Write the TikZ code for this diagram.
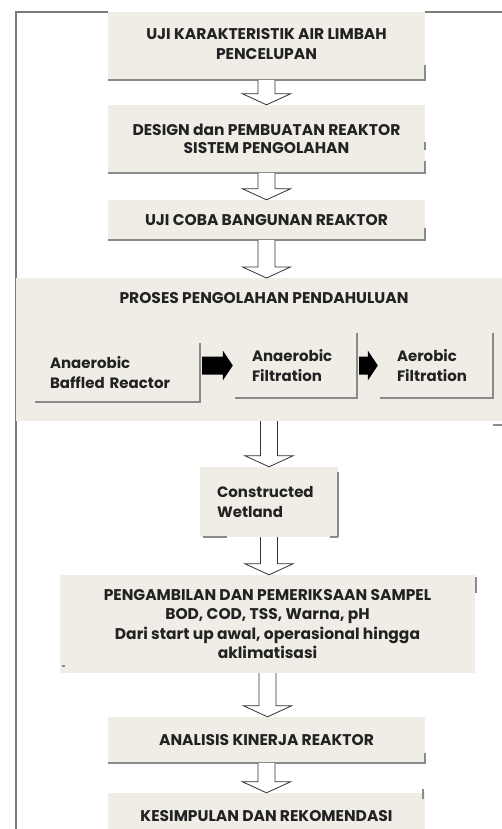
\documentclass[tikz,border=0pt]{standalone}
\usepackage{fontspec}
\setmainfont{Poppins}
\usetikzlibrary{calc}
\definecolor{boxfill}{HTML}{EFEDE6}
\definecolor{shadowgray}{HTML}{8A8A8A}
\definecolor{framegray}{HTML}{7A7A7A}
\definecolor{txt}{HTML}{222222}
\tikzset{
  box/.style={fill=boxfill, draw=none, inner sep=0pt, text=txt, align=center,
    font=\bfseries\fontsize{15.5}{18.5}\selectfont},
  subbox/.style={fill=boxfill, draw=none, inner ysep=0pt, text=txt, align=left,
    font=\bfseries\fontsize{15}{20}\selectfont},
  shadowline/.style={draw=shadowgray, line width=1.5pt},
  hollow/.style={draw=black!80, fill=white, line width=0.8pt, line join=miter},
  solidarrow/.style={fill=black, draw=none},
  pics/harrow/.style 2 args={code={
    \draw[hollow] let \p1=(#1), \p2=(#2) in
      (\x1-8.5pt,\y1) -- (\x1-8.5pt,\y2+11pt) -- (\x1-24pt,\y2+11pt) -- (\x1,\y2)
      -- (\x1+24pt,\y2+11pt) -- (\x1+8.5pt,\y2+11pt) -- (\x1+8.5pt,\y1);
  }},
  pics/barrow/.style 2 args={code={
    \fill[solidarrow] let \p1=(#1), \p2=(#2) in
      (\x1+2pt,\y2+9pt) -- (\x2-12pt,\y2+9pt) -- (\x2-12pt,\y2+15pt) -- (\x2-2pt,\y2)
      -- (\x2-12pt,\y2-15pt) -- (\x2-12pt,\y2-9pt) -- (\x1+2pt,\y2-9pt) -- cycle;
  }}
}
\begin{document}
\begin{tikzpicture}[x=1pt,y=-1pt]
\useasboundingbox (0,0) rectangle (502,829);
\clip (0,0) rectangle (502,829);
\fill[white] (0,0) rectangle (502,829);
% outer frame
\draw[framegray, line width=1.2pt] (16,829) -- (16,12) -- (108,12);
\draw[framegray, line width=1.2pt] (425,12) -- (502,12);
% main boxes
\node[box, minimum width=317pt, minimum height=68pt] (b1) at (266.5,46)
  {\raisebox{4pt}{\begin{tabular}{@{}c@{}}UJI KARAKTERISTIK AIR LIMBAH\\[2pt]PENCELUPAN\end{tabular}}};
\node[box, minimum width=317pt, minimum height=68pt] (b2) at (266.5,139)
  {DESIGN dan PEMBUATAN REAKTOR\\SISTEM PENGOLAHAN};
\node[box, minimum width=317pt, minimum height=40pt] (b3) at (266.5,220)
  {UJI COBA BANGUNAN REAKTOR};
\fill[boxfill] (16,278) rectangle (502,421);
\node[box, fill=none, anchor=center] (b4) at (264,298) {PROSES PENGOLAHAN PENDAHULUAN};
\coordinate (b4bottom) at (259,421);
\node[subbox, inner xsep=15pt, text width=135pt, minimum height=59pt] (sA) at (117.5,372.5)
  {Anaerobic\\Baffled Reactor};
\node[subbox, inner xsep=17pt, text width=88pt, minimum height=65pt] (sB) at (296,365.5)
  {Anaerobic\\Filtration};
\node[subbox, inner xsep=17pt, text width=79pt, minimum height=65pt] (sC) at (436.5,365.5)
  {Aerobic\\Filtration};
\node[subbox, inner xsep=17pt, text width=104pt, minimum height=70pt] (b5) at (269,502)
  {Constructed\\Wetland};
\node[box, minimum width=415pt, minimum height=98pt, font=\bfseries\fontsize{15.5}{19.5}\selectfont] (b6) at (267.5,624)
  {PENGAMBILAN DAN PEMERIKSAAN SAMPEL\\BOD, COD, TSS, Warna, pH\\Dari start up awal, operasional hingga\\aklimatisasi};
\node[box, minimum width=317pt, minimum height=46pt] (b7) at (266.5,740)
  {ANALISIS KINERJA REAKTOR};
\node[box, minimum width=317pt, minimum height=46pt, text depth=0pt] (b8) at (266.5,816)
  {KESIMPULAN DAN REKOMENDASI};
% shadow lines
\draw[shadowline] (b1.south west) -- (b1.south east) -- ++(0,-15);
\draw[shadowline] (b2.south west) -- (b2.south east) -- ++(0,-12);
\draw[shadowline] ([yshift=-45pt]b2.north east) -- ++(0,-8);
\draw[shadowline] (b3.south west) -- (b3.south east) -- ++(0,-12);
\draw[shadowline] (sA.south west) -- (sA.south east) -- (sA.north east);
\draw[shadowline] (sB.south west) -- (sB.south east) -- (sB.north east);
\draw[shadowline] (sC.south west) -- (sC.south east) -- (sC.north east);
\draw[shadowline] (493,425) -- (502,425);
\draw[shadowline] (b5.south east) -- ([yshift=-5pt]b5.north east);
\draw[shadowline] (b5.south west) ++(3,0) -- ++(24,0);
\draw[shadowline] (b5.south east) -- ++(-8,0);
\draw[shadowline] ([xshift=1pt,yshift=-2pt]b6.north east) -- ++(0,16);
\draw[shadowline] ([xshift=2pt,yshift=7pt]b6.south west) -- ++(3,0);
\draw[shadowline] (b7.south west) -- (b7.south east) -- ++(0,-10);
\draw[shadowline] ([xshift=-2pt,yshift=4pt]b8.north east) -- ++(0,10);
% hollow arrows
\pic {harrow={b1.south}{b2.north}};
\pic {harrow={b2.south}{b3.north}};
\pic {harrow={b3.south}{b4.south |- 0,278}};
\pic {harrow={b4bottom -| b5.north}{b5.north}};
\pic {harrow={b5.south}{b6.north}};
\pic {harrow={b6.south}{b7.north}};
\pic {harrow={b7.south}{b8.north}};
% black block arrows
\pic {barrow={sA.east}{sB.west}};
\pic {barrow={sB.east}{sC.west}};
\end{tikzpicture}
\end{document}
